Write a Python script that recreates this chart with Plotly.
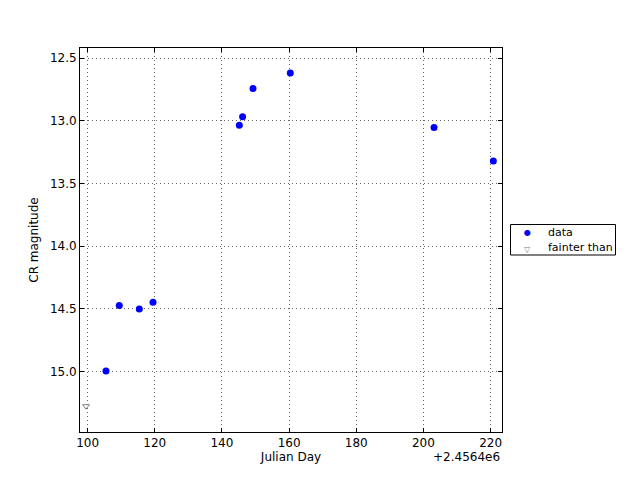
import plotly.graph_objects as go

# Data (Julian Day offset from 2456400)
data_jd = [105.48, 109.44, 115.40, 119.48, 145.18, 146.16, 149.26, 160.36, 203.16, 220.82]
data_mag = [14.996, 14.473, 14.502, 14.449, 13.034, 12.966, 12.742, 12.617, 13.053, 13.32]
faint_jd = [99.52]
faint_mag = [15.278]
x_ticks = [100, 120, 140, 160, 180, 200, 220]
y_ticks = [12.5, 13.0, 13.5, 14.0, 14.5, 15.0]
legend_labels = ["data", "fainter than"]

FONT = "DejaVu Sans, Liberation Sans, sans-serif"

# page body has an 8px margin; compensate so the plot area lands at 80..502 x 48..432
OFF = 8
PL, PR, PT, PB = 80, 502, 48, 432
PW, PH = PR - PL, PB - PT

def px(x):
    return (x - PL) / PW

def py(y):
    return (PB - y) / PH

fig = go.Figure()
fig.add_trace(go.Scatter(
    x=data_jd, y=data_mag, mode="markers", name=legend_labels[0], showlegend=False,
    marker=dict(symbol="circle", size=7, color="#0000ff", line=dict(width=0)),
))
fig.add_trace(go.Scatter(
    x=faint_jd, y=faint_mag, mode="markers", name=legend_labels[1], showlegend=False,
    marker=dict(symbol="triangle-down-open", size=6, color="#808080", line=dict(width=1)),
))

# manual legend (matplotlib-style compact box)
fig.add_shape(type="rect", xref="paper", yref="paper",
              x0=px(510.5), x1=px(615.5), y0=py(255), y1=py(224.5),
              line=dict(color="black", width=1), fillcolor="white", layer="below")
fig.add_annotation(text="●", xref="paper", yref="paper", x=px(527.7), y=py(232.7),
                   xanchor="center", yanchor="middle", showarrow=False,
                   font=dict(family=FONT, size=8, color="#0000ff"))
fig.add_annotation(text="▽", xref="paper", yref="paper", x=px(527.7), y=py(249.5),
                   xanchor="center", yanchor="middle", showarrow=False,
                   font=dict(family=FONT, size=8, color="#808080"))
for lab, yy in zip(legend_labels, [232.7, 247.5]):
    fig.add_annotation(text=lab, xref="paper", yref="paper", x=px(545.5), y=py(yy),
                       xanchor="left", yanchor="middle", showarrow=False,
                       font=dict(family=FONT, size=11, color="black"))

axis_common = dict(
    showline=True, linecolor="black", linewidth=1, mirror="ticks",
    ticks="inside", ticklen=4, tickcolor="black",
    showgrid=True, gridcolor="#666666", griddash="1px,3px", gridwidth=1,
    zeroline=False, tickfont=dict(family=FONT, size=12, color="black"),
)

fig.update_layout(
    width=640, height=480,
    margin=dict(l=PL - OFF, r=640 - PR + OFF, t=PT - OFF, b=480 - PB + OFF, autoexpand=False),
    paper_bgcolor="white", plot_bgcolor="white",
    font=dict(family=FONT, size=12, color="black"),
    xaxis=dict(range=[97.74, 223.4], tickvals=x_ticks, ticklabelstandoff=0,
               title=dict(text="Julian Day", font=dict(family=FONT, size=12), standoff=2),
               **axis_common),
    yaxis=dict(range=[15.484, 12.418], tickvals=y_ticks, tickformat=".1f",
               title=dict(text="CR magnitude", font=dict(family=FONT, size=12), standoff=8),
               **axis_common),
    showlegend=False,
)

fig.add_annotation(text="+2.4564e6", xref="paper", yref="paper", x=1.0, y=py(457),
                   xanchor="right", yanchor="middle", showarrow=False,
                   font=dict(family=FONT, size=12, color="black"))

fig.write_html("out.html")
